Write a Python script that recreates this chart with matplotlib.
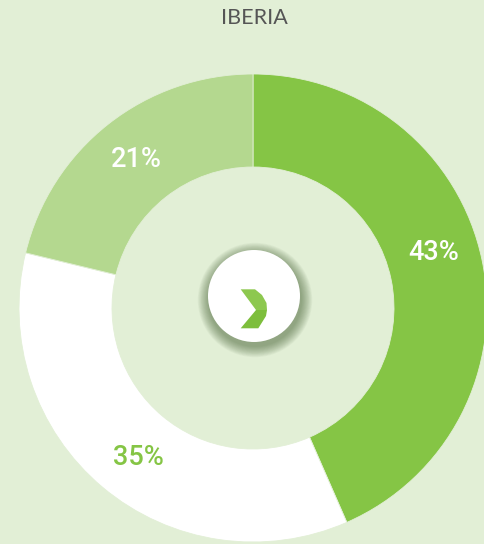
import matplotlib.pyplot as plt
from matplotlib.patches import Circle, Polygon

# data
regions = ["A", "B", "C"]
shares = [43, 35, 21]
slice_colors = ["#85C545", "#FFFFFF", "#B4D88F"]
label_colors = ["white", "#85C545", "white"]
title = "IBERIA"

bg = "#E2EFD6"

fig = plt.figure(figsize=(4.84, 5.44), dpi=100, facecolor=bg)
ax = fig.add_axes([0, 0, 1, 1])
ax.set_facecolor(bg)

# donut (pixel-like coordinates, y up)
cx, cy = 253, 236
R, w = 234, 93

wedges, texts, autotexts = ax.pie(
    shares, colors=slice_colors, startangle=90, counterclock=False,
    radius=R, center=(cx, cy), normalize=True,
    wedgeprops=dict(width=w, edgecolor=bg, linewidth=0.6),
    autopct="%d%%", pctdistance=0.81,
    textprops=dict(fontsize=19.5, fontweight="medium",
                   family=["Roboto", "DejaVu Sans"]),
)
for t, c in zip(autotexts, label_colors):
    t.set_color(c)
# nudge labels a bit like the original
x0, y0 = autotexts[0].get_position()
autotexts[0].set_position((x0 - 5, y0 + 17))
x1, y1 = autotexts[1].get_position()
autotexts[1].set_position((x1 + 7, y1 - 4))

# center button with soft shadow
bx, by, br = 254, 248, 46
for i in range(14, 0, -1):
    ax.add_patch(Circle((bx + 1, by - 4), br + i * 0.8, facecolor="#3f5a2c",
                        edgecolor="none", alpha=0.045, zorder=5))
ax.add_patch(Circle((bx, by), br, facecolor="white", edgecolor="none", zorder=6))

# chevron (pixel coords, y down -> flipped)
def fy(y):
    return 544 - y

upper = [(240.7, 289.3), (255, 289.3), (262, 295), (266.5, 303), (267, 310), (256, 310)]
lower = [(256, 310), (267, 310), (266, 316), (258.3, 328.3), (240.7, 328.3)]
ax.add_patch(Polygon([(x, fy(y)) for x, y in upper], closed=True,
                     facecolor="#8DC84F", edgecolor="none", zorder=7))
ax.add_patch(Polygon([(x, fy(y)) for x, y in lower], closed=True,
                     facecolor="#7DBE3C", edgecolor="none", zorder=7))

ax.text(254, 544 - 18, title, ha="center", va="center", fontsize=15.5,
        color="#555555", family=["Lato", "DejaVu Sans"])

ax.set_xlim(0, 484)
ax.set_ylim(0, 544)
ax.set_aspect("equal")
ax.set_axis_off()

fig.savefig("out.png", dpi=100, facecolor=bg)
